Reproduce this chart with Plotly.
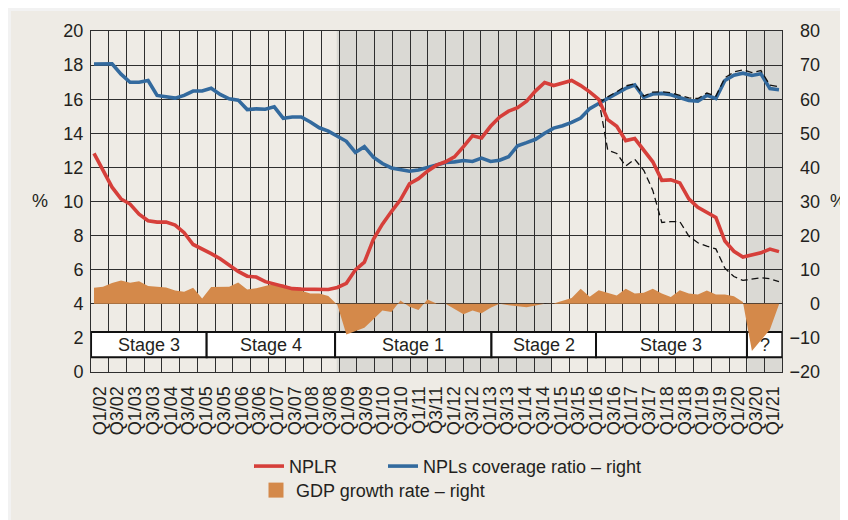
import plotly.graph_objects as go

FONT = "Liberation Sans, Arial, Helvetica, sans-serif"

quarters = [
    "Q1/02", "Q2/02", "Q3/02", "Q4/02", "Q1/03", "Q2/03", "Q3/03", "Q4/03",
    "Q1/04", "Q2/04", "Q3/04", "Q4/04", "Q1/05", "Q2/05", "Q3/05", "Q4/05",
    "Q1/06", "Q2/06", "Q3/06", "Q4/06", "Q1/07", "Q2/07", "Q3/07", "Q4/07",
    "Q1/08", "Q2/08", "Q3/08", "Q4/08", "Q1/09", "Q2/09", "Q3/09", "Q4/09",
    "Q1/10", "Q2/10", "Q3/10", "Q4/10", "Q1/11", "Q2/11", "Q3/11", "Q4/11",
    "Q1/12", "Q2/12", "Q3/12", "Q4/12", "Q1/13", "Q2/13", "Q3/13", "Q4/13",
    "Q1/14", "Q2/14", "Q3/14", "Q4/14", "Q1/15", "Q2/15", "Q3/15", "Q4/15",
    "Q1/16", "Q2/16", "Q3/16", "Q4/16", "Q1/17", "Q2/17", "Q3/17", "Q4/17",
    "Q1/18", "Q2/18", "Q3/18", "Q4/18", "Q1/19", "Q2/19", "Q3/19", "Q4/19",
    "Q1/20", "Q2/20", "Q3/20", "Q4/20", "Q1/21",
]

tick_labels = [
    "Q1/02", "Q3/02", "Q1/03", "Q3/03", "Q1/04", "Q3/04", "Q1/05", "Q3/05",
    "Q1/06", "Q3/06", "Q1/07", "Q3/07", "Q1/08", "Q3/08", "Q1/09", "Q3/09",
    "Q1/10", "Q3/10", "Q1/11", "Q3/11", "Q1/12", "Q3/12", "Q1/13", "Q3/13",
    "Q1/14", "Q3/14", "Q1/15", "Q3/15", "Q1/16", "Q3/16", "Q1/17", "Q3/17",
    "Q1/18", "Q3/18", "Q1/19", "Q3/19", "Q1/20", "Q3/20", "Q1/21",
]

# NPL ratio, % (left axis)
nplr = [
    12.82, 11.83, 10.84, 10.15, 9.85, 9.26, 8.87, 8.79, 8.79, 8.62,
    8.17, 7.48, 7.23, 6.94, 6.64, 6.29, 5.90, 5.62, 5.57, 5.30,
    5.15, 5.01, 4.89, 4.86, 4.84, 4.84, 4.84, 4.96, 5.20, 5.99,
    6.44, 7.78, 8.67, 9.41, 10.10, 11.04, 11.34, 11.78, 12.13, 12.33,
    12.62, 13.22, 13.86, 13.73, 14.41, 14.95, 15.30, 15.50, 15.89, 16.49,
    16.98, 16.80, 16.93, 17.10, 16.80, 16.43, 15.99, 14.80, 14.41, 13.57,
    13.69, 13.02, 12.33, 11.24, 11.27, 11.09, 10.15, 9.66, 9.36, 9.06,
    7.68, 7.08, 6.74, 6.87, 6.99, 7.21, 7.06,
]

# NPLs coverage ratio, % (right axis)
coverage = [
    70.31, 70.31, 70.41, 67.35, 64.97, 64.97, 65.46, 61.11, 60.72, 60.32,
    61.11, 62.40, 62.40, 63.19, 61.41, 60.12, 59.73, 56.96, 57.16, 57.06,
    57.75, 54.39, 54.78, 54.78, 53.30, 51.62, 50.63, 49.05, 47.66, 44.40,
    46.08, 43.01, 41.13, 39.85, 39.35, 38.86, 39.25, 39.94, 40.74, 41.43,
    41.63, 42.02, 41.73, 42.71, 41.73, 42.12, 43.11, 46.37, 47.26, 48.25,
    50.03, 51.52, 52.21, 53.20, 54.48, 57.25, 58.74, 60.22, 61.71, 63.19,
    64.18, 60.52, 61.51, 61.71, 61.31, 60.42, 59.63, 59.43, 61.11, 60.22,
    65.47, 67.05, 67.64, 66.95, 67.45, 63.09, 62.79,
]

# GDP growth rate, % (right axis)
gdp_growth = [
    4.71, 5.00, 6.10, 6.85, 6.17, 6.64, 5.20, 4.95, 4.80, 3.90,
    3.57, 4.71, 1.58, 4.95, 5.00, 5.00, 6.26, 4.21, 4.57, 5.30,
    5.91, 5.68, 4.71, 3.86, 3.04, 3.04, 2.30, -0.30, -9.00, -8.00,
    -7.00, -4.50, -1.93, -2.43, 1.00, -0.85, -1.84, 1.29, 0.10, 0.00,
    -1.50, -3.10, -1.93, -2.80, -1.15, 0.00, -0.40, -0.70, -1.00, -0.50,
    0.00, 0.10, 0.80, 1.70, 4.40, 2.10, 4.00, 3.25, 2.46, 4.40,
    3.04, 3.25, 4.40, 3.04, 1.96, 4.00, 3.04, 2.75, 3.92, 2.75,
    2.75, 2.25, 0.50, -13.84, -10.50, -7.50, -0.20,
]

# dashed series from Q1/16 onwards
alt_quarters = quarters[56:]
nplr_alt = [
    15.99, 13.02, 12.82, 12.08, 12.48, 11.83, 10.65, 8.77, 8.82, 8.82,
    7.97, 7.58, 7.38, 7.22, 6.09, 5.60, 5.37, 5.45, 5.53, 5.47, 5.30,
]
coverage_alt = [
    58.74, 60.70, 62.20, 63.90, 64.50, 60.90, 62.10, 62.20, 61.90, 61.10,
    60.40, 60.20, 61.80, 60.90, 66.30, 68.00, 68.60, 67.80, 68.40, 64.10, 63.70,
]

# stages (boundaries expressed as positions on the quarter axis)
stage_names = ["Stage 3", "Stage 4", "Stage 1", "Stage 2", "Stage 3", "?"]
stage_edges = [-0.33, 12.5, 26.75, 44.1, 55.7, 72.45, 76.37]
shaded_periods = [(26.93, 50.8), (72.5, 76.37)]

RED = "#d63f3a"
BLUE = "#336a9e"
ORANGE = "#d4894a"
GRID = "#2e2e2e"
SHADE = "#dad9d4"
BG = "#eeebe5"
OUTER = "#f2f2f2"
TXT = "#231f20"

PAGE = 8  # page offset of the figure inside the browser window
W, H = 848 - PAGE, 520 - PAGE
ML, MR, MT, MB = 83, 20, 23, 147.3
plot_w = W - ML - MR
plot_h = H - MT - MB
x_end = 691.3 / plot_w


def px_x(px):
    return (px - PAGE - ML) / plot_w


def px_y(py):
    return 1 - (py - PAGE - MT) / plot_h


fig = go.Figure()

# label/grid axis carrier (invisible)
fig.add_trace(go.Scatter(x=tick_labels, y=[None] * len(tick_labels), xaxis="x2", yaxis="y",
                         mode="lines", showlegend=False, hoverinfo="skip"))

# GDP growth area (right scale = main y)
fig.add_trace(go.Scatter(x=quarters, y=gdp_growth, xaxis="x", yaxis="y", mode="lines",
                         fill="tozeroy", fillcolor=ORANGE, line=dict(width=0, color=ORANGE),
                         showlegend=False, hoverinfo="skip"))

# coverage (right scale)
fig.add_trace(go.Scatter(x=quarters, y=coverage, xaxis="x", yaxis="y", mode="lines",
                         name="NPLs coverage ratio – right",
                         line=dict(color=BLUE, width=3.6), legend="legend3"))
fig.add_trace(go.Scatter(x=alt_quarters, y=coverage_alt, xaxis="x", yaxis="y", mode="lines",
                         line=dict(color="#111111", width=1.3, dash="7px,4px"), showlegend=False))

# NPLR (left scale = overlay y2)
fig.add_trace(go.Scatter(x=alt_quarters, y=nplr_alt, xaxis="x", yaxis="y2", mode="lines",
                         line=dict(color="#111111", width=1.3, dash="7px,4px"), showlegend=False))
fig.add_trace(go.Scatter(x=quarters, y=nplr, xaxis="x", yaxis="y2", mode="lines",
                         name="NPLR", line=dict(color=RED, width=3.6), legend="legend"))

# legend entry for the GDP area
fig.add_trace(go.Scatter(x=[None], y=[None], xaxis="x", yaxis="y", mode="markers",
                         name="GDP growth rate – right",
                         marker=dict(symbol="square", size=15, color=ORANGE),
                         legend="legend2"))

shapes = [
    dict(type="rect", xref="paper", yref="paper",
         x0=px_x(11), x1=px_x(848 + 20), y0=px_y(11), y1=px_y(520 + 20),
         fillcolor=BG, line=dict(width=0), layer="below"),
]
for x0, x1 in shaded_periods:
    shapes.append(dict(type="rect", xref="x", yref="y", x0=x0, x1=x1, y0=-20, y1=80,
                       fillcolor=SHADE, line=dict(width=0), layer="below"))

annotations = []
for i, name in enumerate(stage_names):
    x0, x1 = stage_edges[i], stage_edges[i + 1]
    shapes.append(dict(type="rect", xref="x", yref="y", x0=x0, x1=x1, y0=-15.7, y1=-8.3,
                       fillcolor="white", line=dict(color="#111111", width=2), layer="between"))
    annotations.append(dict(xref="x", yref="y", x=(x0 + x1) / 2, y=-12.0, text=name,
                            showarrow=False, font=dict(family=FONT, size=18, color=TXT),
                            xanchor="center", yanchor="middle"))

annotations.append(dict(xref="paper", yref="paper", x=px_x(40), y=px_y(201), text="%",
                        showarrow=False, xanchor="center", yanchor="middle",
                        font=dict(family=FONT, size=18, color=TXT)))
annotations.append(dict(xref="paper", yref="paper", x=px_x(838), y=px_y(201), text="%",
                        showarrow=False, xanchor="center", yanchor="middle",
                        font=dict(family=FONT, size=18, color=TXT)))

leg_common = dict(orientation="h", xanchor="left", yanchor="middle",
                  bgcolor="rgba(0,0,0,0)", font=dict(family=FONT, size=18, color=TXT))

fig.update_layout(
    width=W, height=H,
    margin=dict(l=ML, r=MR, t=MT, b=MB, pad=0),
    paper_bgcolor=OUTER, plot_bgcolor=BG,
    font=dict(family=FONT, size=18, color=TXT),
    shapes=shapes, annotations=annotations,
    xaxis=dict(type="category", categoryorder="array", categoryarray=quarters,
               domain=[0, x_end], range=[-0.333, 76.37], anchor="y",
               showticklabels=False, showgrid=False, zeroline=False, showline=False,
               ticks=""),
    xaxis2=dict(type="category", categoryorder="array", categoryarray=tick_labels,
                overlaying="x", anchor="y", side="bottom", range=[-0.5, 38.5],
                tickmode="linear", tick0=0, dtick=1,
                tickson="boundaries", showgrid=True, gridcolor=GRID, gridwidth=1,
                tickangle=-90, ticks="", tickfont=dict(family=FONT, size=18, color=TXT),
                showline=True, linecolor=GRID, linewidth=1, mirror=True,
                ticklabelstandoff=6),
    yaxis=dict(range=[-20, 80], tickmode="linear", dtick=10, tick0=-20, anchor="free",
               side="left", position=px_x(820), showgrid=True, gridcolor=GRID, gridwidth=1,
               zeroline=False, ticks="", showline=False,
               tickfont=dict(family=FONT, size=18, color=TXT), ticklabelstandoff=0),
    yaxis2=dict(range=[0, 20], tickmode="linear", dtick=2, tick0=0, overlaying="y",
                anchor="x", side="left",
                showgrid=False, zeroline=False, ticks="", showline=True, linecolor=GRID,
                linewidth=1, mirror=True,
                tickfont=dict(family=FONT, size=18, color=TXT), ticklabelstandoff=3),
    legend=dict(x=px_x(249), y=px_y(466), **leg_common),
    legend3=dict(x=px_x(383), y=px_y(466), **leg_common),
    legend2=dict(x=px_x(256), y=px_y(490), **leg_common),
    showlegend=True,
)

fig.write_html("out.html")
